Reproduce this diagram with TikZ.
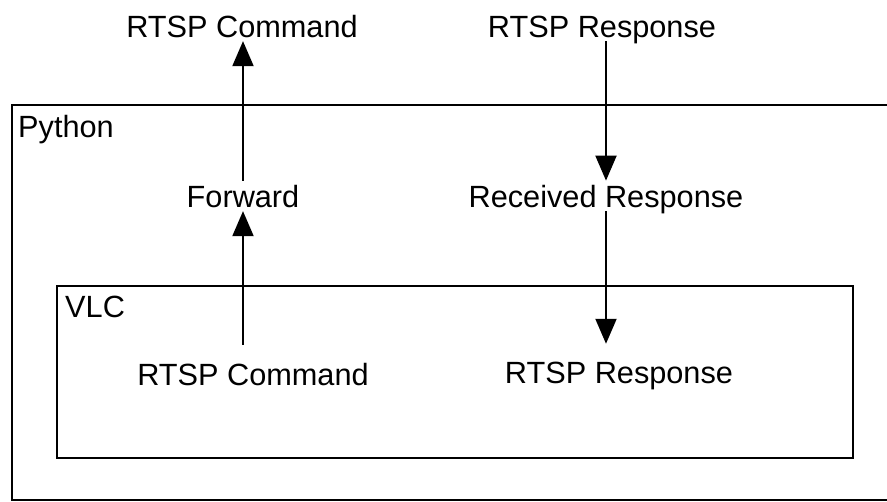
\documentclass[tikz,border=0pt]{standalone}
\usepackage{fontspec}
\setmainfont{Liberation Sans}
\usetikzlibrary{arrows.meta,positioning}

\begin{document}
\begin{tikzpicture}[x=0.03cm,y=-0.03cm,
  >={Triangle[length=0.75cm,width=0.63cm]}]
	\tikzstyle{lbl}
	  =[font=\fontsize{26.2}{31}\selectfont, anchor=base, text depth=0pt]
	\tikzstyle{inlbl}=[lbl, inner ysep=15pt]
	\tikzstyle{box}=[draw, line width=1.7pt]
	\tikzstyle{flow}=[->, line width=1.7pt]

	\clip (0,0) rectangle (887,502);
	% containers
	\draw[box] (12,105) rectangle (900,500);
	\draw[box] (57,286) rectangle (853,458);
	\node[lbl, anchor=base west, inner sep=0pt] (python)
	  at (18,137) {Python};
	\node[lbl, anchor=base west, inner sep=0pt] (vlc)
	  at (65,317) {VLC};

	% messages
	\node[lbl] (topCmd) at (242,37) {RTSP Command};
	\node[lbl] (topResp) at (602,37) {RTSP Response};
	\node[lbl] (fwd) at (243,207) {Forward};
	\node[lbl] (recv) at (606,207) {Received Response};
	\node[inlbl] (inCmd) at (253,385) {RTSP Command};
	\node[inlbl] (inResp) at (619,383) {RTSP Response};

	\draw[flow] (inCmd.north -| fwd.south) -- (fwd.south);
	\draw[flow] (fwd.north) -- (fwd.north |- topCmd.south);
	\draw[flow] (topResp.south -| recv.north) -- (recv.north);
	\draw[flow] (recv.south) -- (inResp.north -| recv.south);
\end{tikzpicture}
\end{document}
